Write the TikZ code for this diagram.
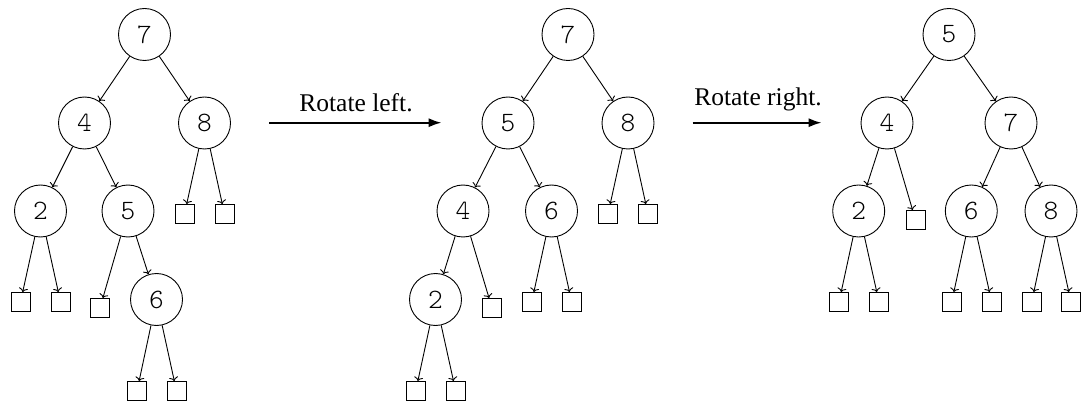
\documentclass[tikz,border=0pt]{standalone}
\usepackage{fontspec}
\setmainfont{Liberation Serif}
\newfontfamily\keyfont{Latin Modern Mono Light}
\usetikzlibrary{arrows.meta}
\begin{document}
\begin{tikzpicture}[x=1pt,y=-1pt,
  key/.style={circle,draw,line width=0.9pt,minimum size=52pt,inner sep=0pt,
    font=\fontsize{28}{28}\keyfont},
  leaf/.style={rectangle,draw,line width=0.9pt,minimum size=19pt,inner sep=0pt},
  edge/.style={line width=0.9pt,-{To[length=4pt,width=9pt]}},
  rot/.style={line width=2pt,-{Latex[length=13pt,width=9pt]}},
  lbl/.style={font=\fontsize{25.5}{25.5}\selectfont,anchor=base,inner sep=0pt}]
\useasboundingbox (0,0) rectangle (1083,403);

% ---- first tree ----
\node[key] (a7) at (144.5,34.5) {7};
\node[key] (a4) at (84.5,123) {4};
\node[key] (a8) at (204.5,123) {8};
\node[key] (a2) at (40.5,211) {2};
\node[key] (a5) at (128,211) {5};
\node[key] (a6) at (156.5,299.5) {6};
\node[leaf] (a8l) at (184.5,214) {};
\node[leaf] (a8r) at (224.5,214) {};
\node[leaf] (a2l) at (20.5,302) {};
\node[leaf] (a2r) at (60.5,302) {};
\node[leaf] (a5l) at (100,308) {};
\node[leaf] (a6l) at (137,391) {};
\node[leaf] (a6r) at (176.5,391) {};
\foreach \p/\c in {a7/a4,a7/a8,a4/a2,a4/a5,a8/a8l,a8/a8r,a2/a2l,a2/a2r,a5/a5l,a5/a6,a6/a6l,a6/a6r}
  \draw[edge] (\p) -- (\c);

% ---- second tree ----
\node[key] (b7) at (568,34.5) {7};
\node[key] (b5) at (508,123) {5};
\node[key] (b8) at (628,123) {8};
\node[key] (b4) at (463,211) {4};
\node[key] (b6) at (551.5,211) {6};
\node[key] (b2) at (435.5,299.5) {2};
\node[leaf] (b8l) at (608,214) {};
\node[leaf] (b8r) at (648,214) {};
\node[leaf] (b4r) at (492,308) {};
\node[leaf] (b6l) at (531.7,302) {};
\node[leaf] (b6r) at (571.7,302) {};
\node[leaf] (b2l) at (415.7,391) {};
\node[leaf] (b2r) at (455.7,391) {};
\foreach \p/\c in {b7/b5,b7/b8,b5/b4,b5/b6,b8/b8l,b8/b8r,b4/b2,b4/b4r,b6/b6l,b6/b6r,b2/b2l,b2/b2r}
  \draw[edge] (\p) -- (\c);

% ---- third tree ----
\node[key] (c5) at (949,34.5) {5};
\node[key] (c4) at (887,123) {4};
\node[key] (c7) at (1011,123) {7};
\node[key] (c2) at (858.7,211) {2};
\node[key] (c6) at (971.3,211) {6};
\node[key] (c8) at (1051,211) {8};
\node[leaf] (c4r) at (915.5,220) {};
\node[leaf] (c2l) at (839,302) {};
\node[leaf] (c2r) at (879,302) {};
\node[leaf] (c6l) at (951.7,302) {};
\node[leaf] (c6r) at (991.7,302) {};
\node[leaf] (c8l) at (1031.7,302) {};
\node[leaf] (c8r) at (1071,302) {};
\foreach \p/\c in {c5/c4,c5/c7,c4/c2,c4/c4r,c7/c6,c7/c8,c2/c2l,c2/c2r,c6/c6l,c6/c6r,c8/c8l,c8/c8r}
  \draw[edge] (\p) -- (\c);

% ---- rotation arrows ----
\coordinate (r1s) at (269,122.7);
\coordinate (r1e) at (441.7,122.7);
\coordinate (r2s) at (692.7,122.7);
\coordinate (r2e) at (821.7,122.7);
\draw[rot] (r1s) -- (r1e);
\draw[rot] (r2s) -- (r2e);
\node[lbl] (t1) at (356,111.7) {Rotate left.};
\node[lbl] (t2) at (758,106) {Rotate right.};
\end{tikzpicture}
\end{document}
